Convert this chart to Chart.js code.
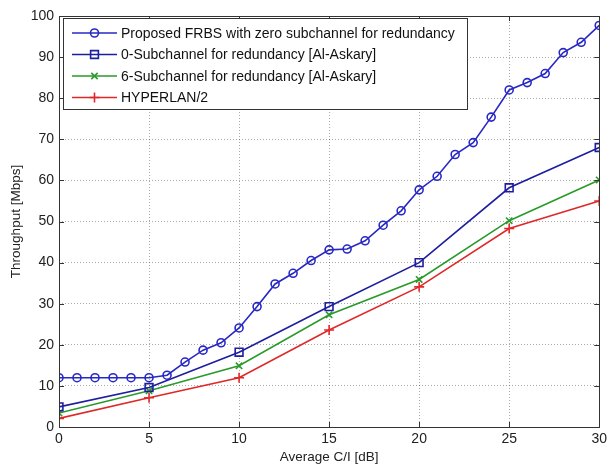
<!DOCTYPE html>
<html>
<head>
<meta charset="utf-8">
<script src="https://cdn.jsdelivr.net/npm/chart.js@4/dist/chart.umd.min.js"></script>
<style>
  html, body { margin: 0; padding: 0; background: #fff; }
  #wrap { width: 611px; height: 467px; }
</style>
</head>
<body>
<div id="wrap"><canvas id="c" width="611" height="467"></canvas></div>
<script>
// Average C/I in dB
const ciFine = [0,1,2,3,4,5,6,7,8,9,10,11,12,13,14,15,16,17,18,19,20,21,22,23,24,25,26,27,28,29,30];
const ciCoarse = [0,5,10,15,20,25,30];

// Throughput in Mbps
const proposedFRBS = [12,12,12,12,12,12,12.6,15.8,18.7,20.5,24.1,29.3,34.8,37.4,40.5,43.1,43.3,45.3,49.1,52.6,57.7,61,66.3,69.2,75.4,82,83.8,86,91.1,93.6,97.7];
const zeroSubchannel = [4.9,9.6,18.2,29.3,40,58.2,68];
const sixSubchannel = [3.4,8.8,14.9,27.3,35.9,50.2,60.1];
const hiperlan2 = [2.1,7.1,12,23.6,34.1,48.3,55];

const seriesLabels = [
  'Proposed FRBS with zero subchannel for redundancy',
  '0-Subchannel for redundancy [Al-Askary]',
  '6-Subchannel for redundancy [Al-Askary]',
  'HYPERLAN/2'
];

const xTicks = [0,5,10,15,20,25,30];
const yTicks = [0,10,20,30,40,50,60,70,80,90,100];

const pairs = (xs, ys) => xs.map((x, i) => ({ x, y: ys[i] }));

const FONT = '"Liberation Sans", Arial, sans-serif';

// Axes box, inward tick marks and the boxed legend inside the plot
const matlabFrame = {
  id: 'matlabFrame',
  afterDraw(chart) {
    const { ctx, chartArea: a, scales } = chart;
    ctx.save();
    ctx.strokeStyle = '#333';
    ctx.lineWidth = 1;
    ctx.strokeRect(Math.round(a.left) + 0.5, Math.round(a.top) + 0.5,
                   Math.round(a.right - a.left), Math.round(a.bottom - a.top));
    const tl = 5;
    ctx.beginPath();
    xTicks.forEach(v => {
      const px = Math.round(scales.x.getPixelForValue(v)) + 0.5;
      ctx.moveTo(px, a.bottom); ctx.lineTo(px, a.bottom - tl);
      ctx.moveTo(px, a.top); ctx.lineTo(px, a.top + tl);
    });
    yTicks.forEach(v => {
      const py = Math.round(scales.y.getPixelForValue(v)) + 0.5;
      ctx.moveTo(a.left, py); ctx.lineTo(a.left + tl, py);
      ctx.moveTo(a.right, py); ctx.lineTo(a.right - tl, py);
    });
    ctx.stroke();

    // legend
    const lx = a.left + 4, ly = a.top + 2, lw = 404, lh = 91;
    ctx.fillStyle = '#fff';
    ctx.fillRect(lx, ly, lw, lh);
    ctx.strokeStyle = '#333';
    ctx.lineWidth = 1;
    ctx.strokeRect(lx + 0.5, ly + 0.5, lw, lh);
    ctx.font = '14px ' + FONT;
    ctx.textBaseline = 'middle';
    chart.data.datasets.forEach((ds, i) => {
      const cy = ly + 15 + i * 21.5;
      ctx.strokeStyle = ds.borderColor;
      ctx.lineWidth = ds.borderWidth;
      ctx.beginPath();
      ctx.moveTo(lx + 9, cy); ctx.lineTo(lx + 54, cy);
      ctx.stroke();
      ctx.fillStyle = 'rgba(255,255,255,0)';
      ctx.lineWidth = ds.pointBorderWidth;
      Chart.helpers.drawPoint(ctx, {
        pointStyle: ds.pointStyle,
        radius: ds.pointRadius,
        rotation: 0,
        borderWidth: ds.pointBorderWidth
      }, lx + 31.5, cy);
      ctx.fillStyle = '#111';
      ctx.fillText(ds.label, lx + 58, cy + 1);
    });
    ctx.restore();
  }
};

const mkSet = (label, data, color, style, radius) => ({
  label, data,
  borderColor: color,
  backgroundColor: 'rgba(255,255,255,0)',
  pointBorderColor: color,
  pointBackgroundColor: 'rgba(255,255,255,0)',
  pointStyle: style,
  pointRadius: radius,
  pointBorderWidth: 1.6,
  borderWidth: 1.6,
  tension: 0
});

new Chart(document.getElementById('c'), {
  type: 'line',
  data: {
    datasets: [
      mkSet(seriesLabels[0], pairs(ciFine, proposedFRBS), '#2828c4', 'circle', 4),
      mkSet(seriesLabels[1], pairs(ciCoarse, zeroSubchannel), '#1e1ea0', 'rect', 5.5),
      mkSet(seriesLabels[2], pairs(ciCoarse, sixSubchannel), '#2a9a2a', 'crossRot', 4.5),
      mkSet(seriesLabels[3], pairs(ciCoarse, hiperlan2), '#e02828', 'cross', 5)
    ]
  },
  options: {
    responsive: false,
    animation: false,
    devicePixelRatio: 1,
    layout: { padding: { left: 0, top: 16, right: 9, bottom: 0 } },
    plugins: { legend: { display: false }, tooltip: { enabled: false } },
    scales: {
      x: {
        type: 'linear', min: 0, max: 30,
        afterBuildTicks: s => { s.ticks = xTicks.map(v => ({ value: v })); },
        afterFit: s => { s.height = 40; },
        grid: { color: 'rgba(40,40,40,0.4)', drawTicks: false },
        border: { display: false, dash: [1, 2] },
        ticks: { padding: 4, color: '#222', font: { family: FONT, size: 14 }, maxRotation: 0 },
        title: { display: true, text: 'Average C/I [dB]', color: '#222',
                 font: { family: FONT, size: 13.5 }, padding: { top: 0, bottom: 2 } }
      },
      y: {
        type: 'linear', min: 0, max: 100,
        afterBuildTicks: s => { s.ticks = yTicks.map(v => ({ value: v })); },
        afterFit: s => { s.width = 59; },
        grid: { color: 'rgba(40,40,40,0.4)', drawTicks: false },
        border: { display: false, dash: [1, 2] },
        ticks: { padding: 5, color: '#222', font: { family: FONT, size: 14 } },
        title: { display: true, text: 'Throughput [Mbps]', color: '#222',
                 font: { family: FONT, size: 13.5 }, padding: { top: 8, bottom: 0 } }
      }
    }
  },
  plugins: [matlabFrame]
});
</script>
</body>
</html>
